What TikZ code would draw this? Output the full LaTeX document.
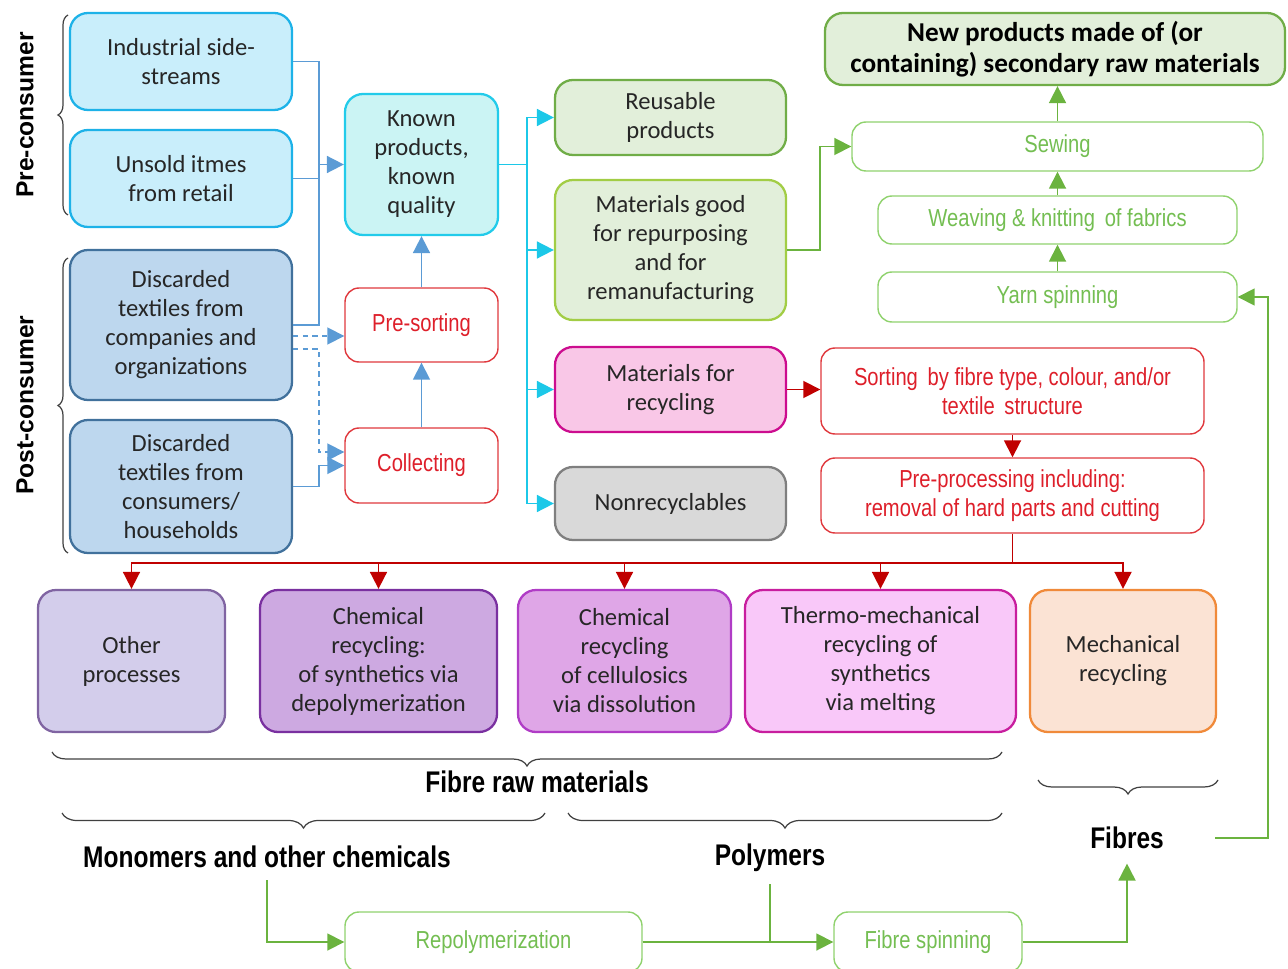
\documentclass[tikz,border=0pt]{standalone}
\usepackage{fontspec}
\setmainfont{Carlito}
\newfontfamily\narrowfont[FakeStretch=0.82]{Liberation Sans}
\newfontfamily\headfont{Liberation Sans}
\usetikzlibrary{arrows.meta,decorations.pathreplacing}

\definecolor{preFill}{HTML}{C9EEFB}
\definecolor{preLine}{HTML}{1DB2E8}
\definecolor{postFill}{HTML}{BDD7EE}
\definecolor{postLine}{HTML}{41719C}
\definecolor{knownFill}{HTML}{CBF4F4}
\definecolor{knownLine}{HTML}{22CBEA}
\definecolor{lgFill}{HTML}{E2EFDA}
\definecolor{lgLine}{HTML}{70AD47}
\definecolor{ygLine}{HTML}{A2CD45}
\definecolor{pinkFill}{HTML}{F9C7E7}
\definecolor{pinkLine}{HTML}{CC0D8F}
\definecolor{greyFill}{HTML}{D9D9D9}
\definecolor{greyLine}{HTML}{7F7F7F}
\definecolor{otherFill}{HTML}{D3CDEB}
\definecolor{otherLine}{HTML}{8064A2}
\definecolor{synFill}{HTML}{CDA9E1}
\definecolor{synLine}{HTML}{7A30A0}
\definecolor{cellFill}{HTML}{DFA6E7}
\definecolor{cellLine}{HTML}{B03CC6}
\definecolor{thermoFill}{HTML}{F9C8F9}
\definecolor{thermoLine}{HTML}{C81E9E}
\definecolor{mechFill}{HTML}{FBE3D4}
\definecolor{mechLine}{HTML}{F08A3A}
\definecolor{redLine}{HTML}{E0393E}
\definecolor{redText}{HTML}{DE1F2A}
\definecolor{redArrow}{HTML}{C00000}
\definecolor{grnLine}{HTML}{90D26E}
\definecolor{grnText}{HTML}{74BE52}
\definecolor{grnArrow}{HTML}{6BB33F}
\definecolor{blueArrow}{HTML}{5B9BD5}
\definecolor{cyanArrow}{HTML}{1CC8E8}
\definecolor{braceCol}{HTML}{404040}

\begin{document}
\begin{tikzpicture}[
    fillbox/.style={draw, rounded corners=0.36cm, line width=1.3pt, align=center,
      inner sep=2pt, text=black!85, font=\fontsize{14}{16.5}\selectfont},
    prebox/.style={fillbox, draw=preLine, fill=preFill, minimum width=4.44cm, minimum height=1.94cm},
    postbox/.style={fillbox, draw=postLine, fill=postFill, minimum width=4.44cm},
    midbox/.style={fillbox, minimum width=4.62cm},
    recbox/.style={fillbox, minimum height=2.84cm},
    procbox/.style={draw, rounded corners=0.28cm, line width=0.8pt, fill=white, align=center,
      inner sep=2pt, font=\narrowfont\fontsize{14}{16.5}\selectfont},
    redbox/.style={procbox, draw=redLine, text=redText},
    grnbox/.style={procbox, draw=grnLine, text=grnText},
    lbl/.style={font=\narrowfont\bfseries\fontsize{17}{20}\selectfont, inner sep=1pt},
    sidelbl/.style={font=\headfont\bfseries\fontsize{14}{16}\selectfont, rotate=90},
    tip/.style={-{Triangle[length=0.34cm,width=0.34cm]}},
    bline/.style={draw=blueArrow, line width=1pt},
    barr/.style={bline, tip},
    bdash/.style={barr, dash pattern=on 3pt off 2.5pt},
    cline/.style={draw=cyanArrow, line width=1pt},
    carr/.style={cline, tip},
    rline/.style={draw=redArrow, line width=1pt},
    rarr/.style={rline, tip},
    gline/.style={draw=grnArrow, line width=1pt},
    garr/.style={gline, tip},
    brc/.style={draw=braceCol, line width=0.7pt, decorate},
  ]
    \useasboundingbox (0,0) rectangle (25.76,-19.38);

    % Sources
    \node[prebox] (ind) at (3.62,-1.23) {Industrial side-\\streams};
    \node[prebox] (unsold) at (3.62,-3.57) {Unsold itmes\\from retail};
    \node[postbox, minimum height=3.0cm] (disc1) at (3.62,-6.5) {Discarded\\textiles from\\companies and\\organizations};
    \node[postbox, minimum height=2.66cm] (disc2) at (3.62,-9.73) {Discarded\\textiles from\\consumers/\\households};

    % Collecting and sorting
    \node[fillbox, draw=knownLine, fill=knownFill, minimum width=3.06cm, minimum height=2.82cm] (known) at (8.43,-3.29) {Known\\products,\\known\\quality};
    \node[redbox, minimum width=3.06cm, minimum height=1.48cm] (presort) at (8.43,-6.5) {Pre-sorting};
    \node[redbox, minimum width=3.06cm, minimum height=1.5cm] (collect) at (8.43,-9.31) {Collecting};

    % Fractions
    \node[midbox, draw=lgLine, fill=lgFill, minimum height=1.5cm] (reuse) at (13.41,-2.35) {Reusable\\products};
    \node[midbox, draw=ygLine, fill=lgFill, minimum height=2.8cm] (repurp) at (13.41,-5.0) {Materials good\\for repurposing\\and for\\remanufacturing};
    \node[midbox, draw=pinkLine, fill=pinkFill, minimum height=1.7cm] (forrec) at (13.41,-7.79) {Materials for\\recycling};
    \node[midbox, draw=greyLine, fill=greyFill, minimum height=1.46cm] (nonrec) at (13.41,-10.07) {Nonrecyclables};

    % New products chain
    \node[fillbox, draw=lgLine, fill=lgFill, minimum width=9.2cm, minimum height=1.44cm,
      font=\bfseries\fontsize{15.5}{17.5}\selectfont, text=black] (newprod) at (21.1,-0.98) {New products made of (or\\containing) secondary raw materials};
    \node[grnbox, minimum width=8.22cm, minimum height=0.98cm] (sewing) at (21.15,-2.93) {Sewing};
    \node[grnbox, minimum width=7.18cm, minimum height=0.96cm] (weaving) at (21.15,-4.4) {Weaving \& knitting\, of fabrics};
    \node[grnbox, minimum width=7.18cm, minimum height=1.0cm] (yarn) at (21.15,-5.94) {Yarn spinning};
    \node[redbox, minimum width=7.66cm, minimum height=1.72cm] (sortfib) at (20.25,-7.82) {Sorting\, by fibre type, colour, and/or\\textile\, structure};
    \node[redbox, minimum width=7.66cm, minimum height=1.5cm] (preproc) at (20.25,-9.91) {Pre-processing including:\\removal of hard parts and cutting};

    % Recycling routes
    \node[recbox, draw=otherLine, fill=otherFill, minimum width=3.74cm] (other) at (2.63,-13.22) {Other\\processes};
    \node[recbox, draw=synLine, fill=synFill, minimum width=4.74cm] (chemsyn) at (7.57,-13.22) {Chemical\\recycling:\\of synthetics via\\depolymerization};
    \node[recbox, draw=cellLine, fill=cellFill, minimum width=4.26cm] (chemcell) at (12.49,-13.22) {Chemical\\recycling\\of cellulosics\\via dissolution};
    \node[recbox, draw=thermoLine, fill=thermoFill, minimum width=5.42cm] (thermo) at (17.61,-13.22) {Thermo-mechanical\\recycling of\\synthetics\\via melting};
    \node[recbox, draw=mechLine, fill=mechFill, minimum width=3.72cm] (mech) at (22.46,-13.22) {Mechanical\\recycling};

    % Outputs
    \node[lbl] (fibraw) at (10.74,-15.64) {Fibre raw materials};
    \node[lbl] (fibres) at (22.54,-16.76) {Fibres};
    \node[lbl] (monomers) at (5.34,-17.14) {Monomers and other chemicals};
    \node[lbl] (polymers) at (15.4,-17.16) {Polymers};
    \node[grnbox, minimum width=5.94cm, minimum height=1.2cm] (repoly) at (9.87,-18.84) {Repolymerization};
    \node[grnbox, minimum width=3.76cm, minimum height=1.2cm] (fibspin) at (18.56,-18.84) {Fibre spinning};

    % Side labels
    \node[sidelbl] (precons) at (0.5,-2.3) {Pre-consumer};
    \node[sidelbl] (postcons) at (0.5,-8.1) {Post-consumer};

    % Braces
    \draw[brc, decoration={brace, amplitude=0.2cm}] (1.36,-4.3) -- (1.36,-0.3);
    \draw[brc, decoration={brace, amplitude=0.2cm}] (1.36,-11.06) -- (1.36,-5.16);
    \draw[brc, decoration={brace, mirror, amplitude=0.28cm}] (1.04,-15.04) -- (20.04,-15.04);
    \draw[brc, decoration={brace, mirror, amplitude=0.28cm}] (20.76,-15.6) -- (24.36,-15.6);
    \draw[brc, decoration={brace, mirror, amplitude=0.3cm}] (1.24,-16.26) -- (10.9,-16.26);
    \draw[brc, decoration={brace, mirror, amplitude=0.3cm}] (11.36,-16.26) -- (20.04,-16.26);

    % Junctions
    \coordinate (jL) at (6.38,-3.29);
    \coordinate (jD) at (6.38,-9.04);
    \coordinate (jR) at (10.54,-3.29);
    \coordinate (jB) at (20.25,-11.26);
    \coordinate (jG) at (16.4,-5.0);
    \coordinate (fR) at (24.3,-16.76);
    \coordinate (fT) at (25.36,-16.76);

    % Blue connectors
    \draw[bline] (ind.east) -| (jL);
    \draw[bline] (unsold.east) -| (jL);
    \draw[bline] (disc1.east) -| (jL);
    \draw[barr] (jL) -- (known.west);
    \draw[bdash] ([yshift=-0.22cm]disc1.east) -- ([yshift=-0.22cm]presort.west);
    \draw[bdash] ([yshift=-0.48cm]disc1.east) -| (jD) -- ([yshift=0.27cm]collect.west);
    \draw[barr] (disc2.east) -| (jL |- collect.west) -- (collect.west);
    \draw[barr] (collect.north) -- (presort.south);
    \draw[barr] (presort.north) -- (known.south);

    % Cyan connectors
    \draw[cline] (known.east) -- (jR);
    \foreach \n in {reuse,repurp,forrec,nonrec}
      \draw[carr] (jR) |- (\n.west);

    % Red connectors
    \draw[rarr] (forrec.east) -- (forrec.east -| sortfib.west);
    \draw[rarr] (sortfib.south) -- (preproc.north);
    \draw[rline] (preproc.south) -- (jB);
    \foreach \n in {other,chemsyn,chemcell,thermo,mech}
      \draw[rarr] (jB) -| (\n.north);

    % Green connectors
    \draw[garr] (repurp.east) -- (jG) |- (sewing.west);
    \draw[garr] (yarn.north) -- (weaving.south);
    \draw[garr] (weaving.north) -- (sewing.south);
    \draw[garr] (sewing.north) -- (sewing.north |- newprod.south);
    \draw[garr] (fR) -- (fT) |- (yarn.east);
    \draw[garr] ([yshift=-0.2cm]monomers.south) |- (repoly.west);
    \draw[garr] (repoly.east) -- (fibspin.west);
    \draw[gline] ([yshift=-0.2cm]polymers.south) -- (polymers.south |- repoly.east);
    \draw[garr] (fibspin.east) -| ([yshift=-0.25cm]fibres.south);
\end{tikzpicture}
\end{document}
